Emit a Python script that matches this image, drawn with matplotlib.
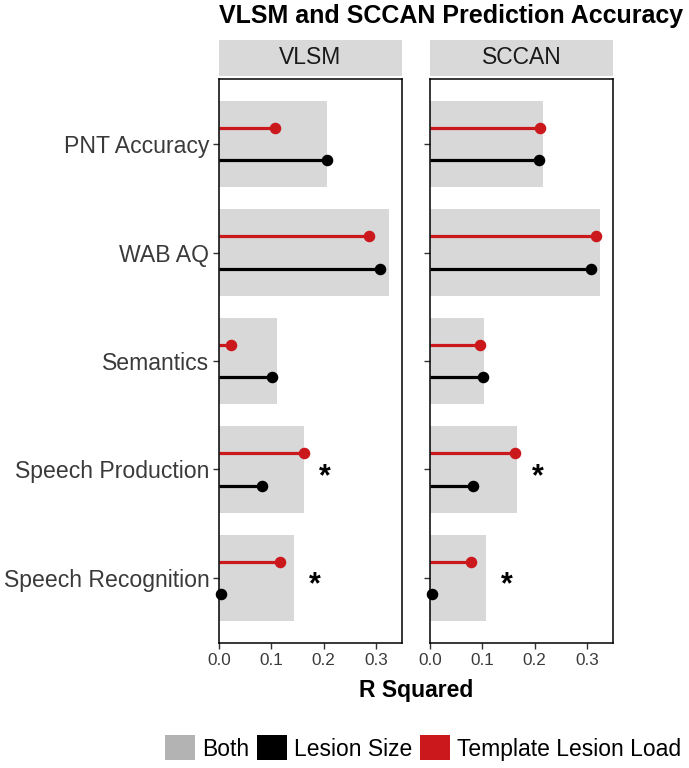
import matplotlib
matplotlib.use("Agg")
import matplotlib.pyplot as plt
from matplotlib.patches import Patch
import numpy as np

plt.rcParams['font.family'] = ['Liberation Sans', 'DejaVu Sans']

categories = ["PNT Accuracy", "WAB AQ", "Semantics", "Speech Production", "Speech Recognition"]
methods = ["VLSM", "SCCAN"]

both = {
    "VLSM":  [0.207, 0.326, 0.110, 0.163, 0.144],
    "SCCAN": [0.217, 0.325, 0.103, 0.166, 0.107],
}
lesion_size = {
    "VLSM":  [0.207, 0.307, 0.101, 0.082, 0.004],
    "SCCAN": [0.208, 0.307, 0.101, 0.082, 0.004],
}
template_load = {
    "VLSM":  [0.107, 0.287, 0.022, 0.162, 0.117],
    "SCCAN": [0.210, 0.317, 0.096, 0.162, 0.078],
}
significant = [False, False, False, True, True]

GRAY = '#b3b3b3'
RED = '#CB181D'
BLACK = '#000000'
TXT = '#3a3a3a'

W, H = 689, 768
fig = plt.figure(figsize=(W / 100, H / 100), dpi=100)

def fx(px):
    return px / W

def fy(py):
    return 1 - py / H

panels = {"VLSM": (219, 402), "SCCAN": (430, 613)}
top, bottom = 79, 643
strip_top, strip_bot = 40, 76

n = len(categories)
ypos = np.arange(n)

for k, m in enumerate(methods):
    l, r = panels[m]
    ax = fig.add_axes([fx(l), fy(bottom), fx(r) - fx(l), fy(top) - fy(bottom)])
    ax.barh(ypos, both[m], height=0.8, color=GRAY, alpha=0.5, zorder=1)
    for vals, col, off in ((template_load[m], RED, -0.15), (lesion_size[m], BLACK, 0.15)):
        yy = ypos + off
        ax.hlines(yy, 0, vals, color=col, lw=2.3, zorder=2)
        ax.plot(vals, yy, 'o', color=col, ms=7.3, zorder=3, clip_on=False)
    for i, s in enumerate(significant):
        if s:
            ax.text(both[m][i] + 0.04, ypos[i] + 0.07, '*', fontsize=22, ha='center',
                    va='center', color='black', fontweight='bold')
    ax.set_xlim(0, 0.35)
    ax.set_ylim(n - 1 + 0.6, -0.6)
    ax.set_xticks([0.0, 0.1, 0.2, 0.3])
    ax.set_xticklabels(['0.0', '0.1', '0.2', '0.3'])
    ax.set_yticks(ypos)
    if k == 0:
        ax.set_yticklabels(categories, fontsize=16.6, color=TXT)
    else:
        ax.set_yticklabels([])
    ax.tick_params(axis='x', labelsize=12.3, labelcolor=TXT, length=4, width=1, color='#333333', pad=3)
    ax.tick_params(axis='y', length=4, width=1, color='#333333', pad=3)
    for sp in ax.spines.values():
        sp.set_color('black')
        sp.set_linewidth(1.1)
    sax = fig.add_axes([fx(l), fy(strip_bot), fx(r) - fx(l), fy(strip_top) - fy(strip_bot)])
    sax.set_facecolor('#d9d9d9')
    for sp in sax.spines.values():
        sp.set_visible(False)
    sax.set_xticks([])
    sax.set_yticks([])
    sax.text(0.5, 0.5, m, transform=sax.transAxes, ha='center', va='center',
             fontsize=16.5, color='#1a1a1a')

fig.text(fx(219), fy(16), "VLSM and SCCAN Prediction Accuracy", fontsize=18,
         fontweight='bold', ha='left', va='center')
fig.text(fx(416), fy(690), "R Squared", fontsize=16.5, fontweight='bold',
         ha='center', va='center')

handles = [Patch(facecolor=GRAY, edgecolor='none', label='Both'),
           Patch(facecolor=BLACK, edgecolor='none', label='Lesion Size'),
           Patch(facecolor=RED, edgecolor='none', label='Template Lesion Load')]
fig.legend(handles=handles, loc='center', bbox_to_anchor=(fx(423), fy(748)), ncol=3,
           frameon=False, fontsize=16.5, handlelength=1.3, handleheight=1.3,
           handletextpad=0.3, columnspacing=0.35, borderpad=0)

fig.savefig('out.png', dpi=100)
